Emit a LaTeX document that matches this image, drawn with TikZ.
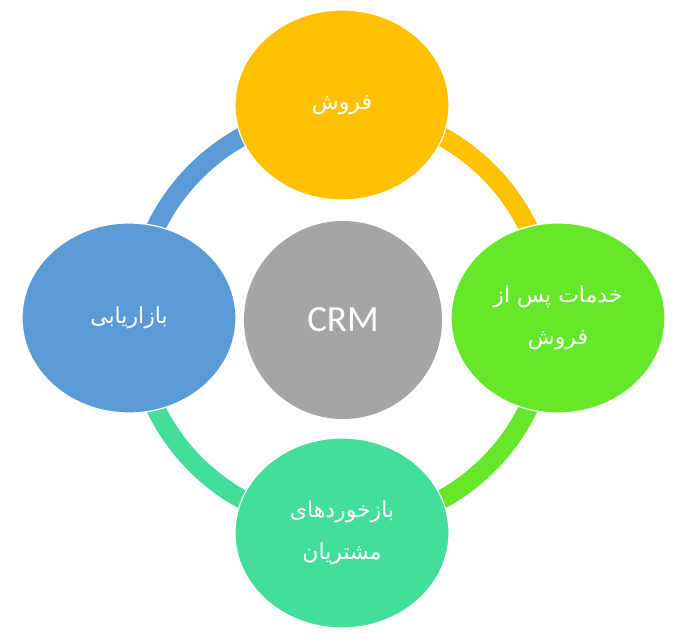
\documentclass[tikz,border=0pt]{standalone}
\usepackage{fontspec}
\usetikzlibrary{shapes.geometric}
\TeXXeTstate=1
\newfontfamily\fafont[Script=Arabic]{DejaVu Sans}
\newfontfamily\crmfont{Carlito}
\definecolor{salesc}{HTML}{FFC000}
\definecolor{servc}{HTML}{66E82A}
\definecolor{feedc}{HTML}{44DE9B}
\definecolor{markc}{HTML}{5B9BD5}
\definecolor{crmc}{HTML}{A5A5A5}

\begin{document}
\begin{tikzpicture}[x=1pt, y=1pt,
    part/.style={ellipse, fill=#1, draw=white, line width=1.2pt, minimum width=214pt, minimum height=190pt,
      inner sep=0pt, text=white, align=center, font=\fafont\fontsize{22}{42}\selectfont},
    ring/.style={draw=#1, line width=19pt}]
    \useasboundingbox[fill=white] (0,0) rectangle (688,641);
    \coordinate (c) at (342,323);
    \draw[ring=salesc] (c) ++(90:207pt) arc[start angle=90, end angle=0, radius=207pt];
    \draw[ring=servc] (c) ++(0:207pt) arc[start angle=0, end angle=-90, radius=207pt];
    \draw[ring=feedc] (c) ++(-90:207pt) arc[start angle=-90, end angle=-180, radius=207pt];
    \draw[ring=markc] (c) ++(180:207pt) arc[start angle=180, end angle=90, radius=207pt];
    \node[part=salesc] (sales) at (342,536) {\beginR فروش\endR};
    \node[part=servc] (service) at (558,323) {\beginR خدمات پس از\endR\\\beginR فروش\endR};
    \node[part=feedc] (feedback) at (342,108) {\beginR بازخوردهای\endR\\\beginR مشتریان\endR};
    \node[part=markc] (marketing) at (129,323) {\beginR بازاریابی\endR};
    \node[circle, fill=crmc, minimum size=198pt, inner sep=0pt, text=white,
      font=\crmfont\fontsize{37}{40}\selectfont] (crm) at (343,321) {CRM};
\end{tikzpicture}
\end{document}
